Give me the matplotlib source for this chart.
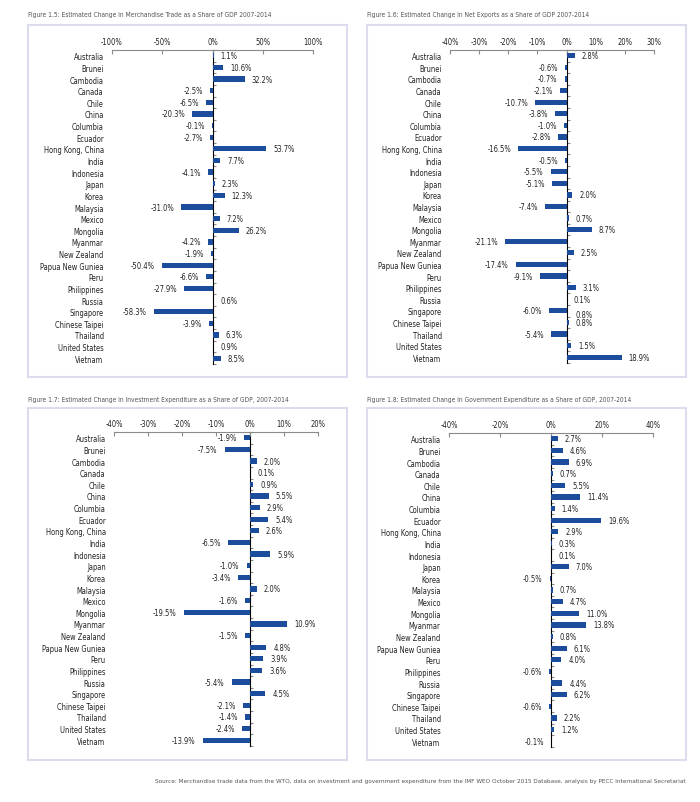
import numpy as np
import matplotlib
matplotlib.use("Agg")
import matplotlib.pyplot as plt
from matplotlib import font_manager as fm
from matplotlib.patches import Rectangle

# ─── Font: the reference uses a narrow sans, pick the narrowest installed ─────
_fonts = fm.fontManager.ttflist
_names = {f.name for f in _fonts}
SCALE = 1.0
if "Liberation Sans Narrow" in _names:
    plt.rcParams["font.family"] = ["Liberation Sans Narrow", "DejaVu Sans"]
elif any(f.name == "DejaVu Sans" and f.stretch == "condensed" for f in _fonts):
    plt.rcParams["font.family"] = ["DejaVu Sans"]
    plt.rcParams["font.stretch"] = "condensed"
    SCALE = 0.85
else:
    plt.rcParams["font.family"] = ["Lato", "DejaVu Sans"]
    SCALE = 0.88

# ─── Data ─────────────────────────────────────────────────────────────────────
economies = [
    "Australia", "Brunei", "Cambodia", "Canada", "Chile", "China", "Columbia",
    "Ecuador", "Hong Kong, China", "India", "Indonesia", "Japan", "Korea",
    "Malaysia", "Mexico", "Mongolia", "Myanmar", "New Zealand",
    "Papua New Guniea", "Peru", "Philippines", "Russia", "Singapore",
    "Chinese Taipei", "Thailand", "United States", "Vietnam",
]

merch_trade = [1.1, 10.6, 32.2, -2.5, -6.5, -20.3, -0.1, -2.7, 53.7, 7.7, -4.1,
               2.3, 12.3, -31.0, 7.2, 26.2, -4.2, -1.9, -50.4, -6.6, -27.9, 0.6,
               -58.3, -3.9, 6.3, 0.9, 8.5]
net_exports = [2.8, -0.6, -0.7, -2.1, -10.7, -3.8, -1.0, -2.8, -16.5, -0.5, -5.5,
               -5.1, 2.0, -7.4, 0.7, 8.7, -21.1, 2.5, -17.4, -9.1, 3.1, 0.1,
               -6.0, 0.8, -5.4, 1.5, 18.9]
investment = [-1.9, -7.5, 2.0, 0.1, 0.9, 5.5, 2.9, 5.4, 2.6, -6.5, 5.9, -1.0,
              -3.4, 2.0, -1.6, -19.5, 10.9, -1.5, 4.8, 3.9, 3.6, -5.4, 4.5,
              -2.1, -1.4, -2.4, -13.9]
government = [2.7, 4.6, 6.9, 0.7, 5.5, 11.4, 1.4, 19.6, 2.9, 0.3, 0.1, 7.0, -0.5,
              0.7, 4.7, 11.0, 13.8, 0.8, 6.1, 4.0, -0.6, 4.4, 6.2, -0.6, 2.2,
              1.2, -0.1]

# the original Figure 1.6 carries a stray duplicate label under Singapore
stray_label = dict(panel=1, economy="Singapore", value=0.8)

titles = [
    "Figure 1.5: Estimated Change in Merchandise Trade as a Share of GDP 2007-2014",
    "Figure 1.6: Estimated Change in Net Exports as a Share of GDP 2007-2014",
    "Figure 1.7: Estimated Change in Investment Expenditure as a Share of GDP, 2007-2014",
    "Figure 1.8: Estimated Change in Government Expenditure as a Share of GDP, 2007-2014",
]
x_ticks = [
    [-100, -50, 0, 50, 100],
    [-40, -30, -20, -10, 0, 10, 20, 30],
    [-40, -30, -20, -10, 0, 10, 20],
    [-40, -20, 0, 20, 40],
]
source = ("Source: Merchandise trade data from the WTO, data on investment and "
          "government expenditure from the IMF WEO October 2015 Database, "
          "analysis by PECC International Secretariat")

# ─── Layout (pixels) ──────────────────────────────────────────────────────────
W, H = 700, 803
BAR = "#1c4c9c"
AXIS = "#8a8a8a"
TEXT = "#222222"
FS = 6.4 * SCALE

# plot area: left, right, top, bottom ; box: left, right, top, bottom ; title y
panels = [
    dict(data=merch_trade, plot=(112, 313, 51, 365), box=(28, 347, 26, 378), ty=15),
    dict(data=net_exports, plot=(450, 654, 51, 364), box=(367, 686, 26, 378), ty=15),
    dict(data=investment, plot=(114, 318, 433, 747), box=(28, 347, 409, 761), ty=400),
    dict(data=government, plot=(449, 653, 434, 748), box=(367, 686, 409, 761), ty=400),
]

fig = plt.figure(figsize=(W / 100, H / 100), dpi=100)
fig.patch.set_facecolor("white")

y = np.arange(len(economies))
axes = []

for i, p in enumerate(panels):
    vals = np.array(p["data"])
    bl, br, bt, bb = p["box"]
    fig.patches.append(Rectangle((bl / W, 1 - bb / H), (br - bl) / W, (bb - bt) / H,
                                 transform=fig.transFigure, fill=False,
                                 edgecolor="#dcdcef", linewidth=1.5))
    fig.text(bl / W, 1 - p["ty"] / H, titles[i], fontsize=5.65 * SCALE,
             color="#555555", va="center", ha="left")

    l, r, t, b = p["plot"]
    ax = fig.add_axes([l / W, 1 - b / H, (r - l) / W, (b - t) / H])
    axes.append(ax)
    ticks = x_ticks[i]
    xmin, xmax = ticks[0], ticks[-1]
    ax.barh(y, vals, height=0.45, color=BAR, zorder=3)
    ax.set_xlim(xmin, xmax)
    ax.set_ylim(len(economies) - 0.5, -0.5)

    ax.set_yticks(y, economies)
    ax.tick_params(axis="y", length=0, pad=6, labelsize=FS, labelcolor=TEXT)

    ax.xaxis.set_ticks_position("top")
    ax.set_xticks(ticks, [f"{v}%" for v in ticks])
    ax.tick_params(axis="x", direction="in", length=3, color=AXIS, pad=3,
                   labelsize=FS, labelcolor=TEXT)
    for s in ("left", "right", "bottom"):
        ax.spines[s].set_visible(False)
    ax.spines["top"].set_color(AXIS)
    ax.spines["top"].set_linewidth(0.8)

    # zero line with category ticks
    zero_frac = -xmin / (xmax - xmin)
    sec = ax.secondary_yaxis(zero_frac)
    sec.set_yticks(np.arange(-0.5, len(economies), 1.0))
    sec.set_yticklabels([])
    sec.tick_params(length=2, color=AXIS, width=0.8)
    sec.spines["left"].set_color(AXIS)
    sec.spines["left"].set_linewidth(0.8)

    for yi, v in zip(y, vals):
        if v >= 0:
            ax.annotate(f"{v:.1f}%", (v, yi), xytext=(5, 0),
                        textcoords="offset points", ha="left", va="center",
                        fontsize=FS, color=TEXT)
        else:
            ax.annotate(f"{v:.1f}%", (v, yi), xytext=(-5, 0),
                        textcoords="offset points", ha="right", va="center",
                        fontsize=FS, color=TEXT)

sl = stray_label
axes[sl["panel"]].annotate(f"{sl['value']:.1f}%",
                           (sl["value"], economies.index(sl["economy"])),
                           xytext=(5, -3), textcoords="offset points",
                           ha="left", va="center", fontsize=FS, color=TEXT)

fig.text(686 / W, 1 - 782 / H, source, fontsize=5.4 * SCALE, color="#555555",
         ha="right", va="center")

fig.savefig("out.png", dpi=100, facecolor="white")
